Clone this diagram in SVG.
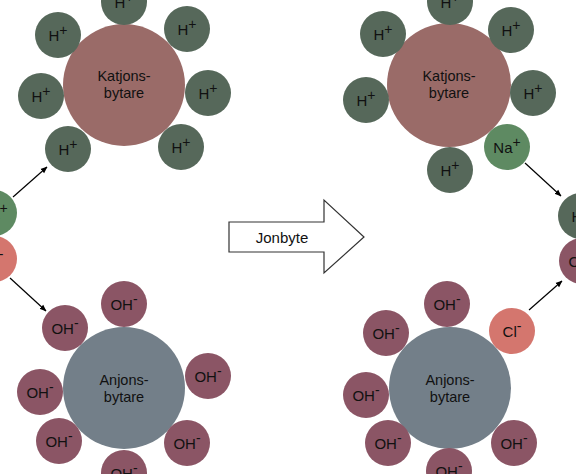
<svg xmlns="http://www.w3.org/2000/svg" width="576" height="474" viewBox="0 0 576 474">
<defs>
<style>
.h{fill:#56685a}
.na{fill:#5e8a62}
.cl{fill:#d4766e}
.oh{fill:#8b5565}
.kat{fill:#9a6b68}
.anj{fill:#737f89}
text{font-family:"Liberation Sans",Arial,sans-serif;font-size:15px;fill:#111;text-anchor:middle}
.big{font-size:14.5px}
.sup{font-size:14px}
.conn{stroke:#000;stroke-width:1.2;fill:none;marker-end:url(#ah)}
</style>
<marker id="ah" viewBox="0 0 10 10" refX="9" refY="5" markerWidth="7" markerHeight="7" orient="auto" markerUnits="userSpaceOnUse">
<path d="M0,1 L10,5 L0,9 Z" fill="#000"/>
</marker>
</defs>
<rect width="576" height="474" fill="#fff"/>

<g id="left-cation">
<circle class="kat" cx="124" cy="85" r="61"/>
<text class="big" x="124" y="81">Katjons-</text>
<text class="big" x="124" y="98">bytare</text>
</g>
<g id="lh1"><circle class="h" cx="124" cy="2" r="23"/><text x="124" y="8">H<tspan class="sup" dy="-6">+</tspan></text></g>
<g id="lh2"><circle class="h" cx="58" cy="35" r="23"/><text x="58" y="41">H<tspan class="sup" dy="-6">+</tspan></text></g>
<g id="lh3"><circle class="h" cx="187" cy="29" r="23"/><text x="187" y="35">H<tspan class="sup" dy="-6">+</tspan></text></g>
<g id="lh4"><circle class="h" cx="41" cy="96" r="23"/><text x="41" y="102">H<tspan class="sup" dy="-6">+</tspan></text></g>
<g id="lh5"><circle class="h" cx="208" cy="93" r="23"/><text x="208" y="99">H<tspan class="sup" dy="-6">+</tspan></text></g>
<g id="lh6"><circle class="h" cx="68" cy="149" r="23"/><text x="68" y="155">H<tspan class="sup" dy="-6">+</tspan></text></g>
<g id="lh7"><circle class="h" cx="181" cy="147" r="23"/><text x="181" y="153">H<tspan class="sup" dy="-6">+</tspan></text></g>

<g id="left-na"><circle class="na" cx="-6" cy="213" r="23"/><text x="-6" y="219">Na<tspan class="sup" dy="-6">+</tspan></text></g>
<g id="left-cl"><circle class="cl" cx="-6" cy="259" r="23"/><text x="-6" y="265">Cl<tspan class="sup" dy="-6">-</tspan></text></g>

<g id="left-anion">
<circle class="anj" cx="124" cy="388" r="61"/>
<text class="big" x="124" y="385">Anjons-</text>
<text class="big" x="124" y="402">bytare</text>
</g>
<g id="loh1"><circle class="oh" cx="124" cy="304" r="23"/><text x="124" y="310">OH<tspan class="sup" dy="-6">-</tspan></text></g>
<g id="loh2"><circle class="oh" cx="65" cy="328" r="23"/><text x="65" y="334">OH<tspan class="sup" dy="-6">-</tspan></text></g>
<g id="loh3"><circle class="oh" cx="208" cy="376" r="23"/><text x="208" y="382">OH<tspan class="sup" dy="-6">-</tspan></text></g>
<g id="loh4"><circle class="oh" cx="40" cy="392" r="23"/><text x="40" y="398">OH<tspan class="sup" dy="-6">-</tspan></text></g>
<g id="loh5"><circle class="oh" cx="59" cy="441" r="23"/><text x="59" y="447">OH<tspan class="sup" dy="-6">-</tspan></text></g>
<g id="loh6"><circle class="oh" cx="187" cy="443" r="23"/><text x="187" y="449">OH<tspan class="sup" dy="-6">-</tspan></text></g>
<g id="loh7"><circle class="oh" cx="124" cy="473" r="23"/><text x="124" y="479">OH<tspan class="sup" dy="-6">-</tspan></text></g>

<g id="jonbyte">
<path d="M229,222 L324,222 L324,200 L364,237 L324,273 L324,252 L229,252 Z" fill="#fff" stroke="#333" stroke-width="1.2"/>
<text x="282" y="243">Jonbyte</text>
</g>

<g id="right-cation">
<circle class="kat" cx="449" cy="85" r="62"/>
<text class="big" x="449" y="81">Katjons-</text>
<text class="big" x="449" y="98">bytare</text>
</g>
<g id="rh1"><circle class="h" cx="450" cy="2" r="23"/><text x="450" y="8">H<tspan class="sup" dy="-6">+</tspan></text></g>
<g id="rh2"><circle class="h" cx="383" cy="34" r="23"/><text x="383" y="40">H<tspan class="sup" dy="-6">+</tspan></text></g>
<g id="rh3"><circle class="h" cx="511" cy="30" r="23"/><text x="511" y="36">H<tspan class="sup" dy="-6">+</tspan></text></g>
<g id="rh4"><circle class="h" cx="366" cy="100" r="23"/><text x="366" y="106">H<tspan class="sup" dy="-6">+</tspan></text></g>
<g id="rh5"><circle class="h" cx="533" cy="93" r="23"/><text x="533" y="99">H<tspan class="sup" dy="-6">+</tspan></text></g>
<g id="rna"><circle class="na" cx="507" cy="147" r="23"/><text x="507" y="153">Na<tspan class="sup" dy="-6">+</tspan></text></g>
<g id="rh6"><circle class="h" cx="450" cy="170" r="23"/><text x="450" y="176">H<tspan class="sup" dy="-6">+</tspan></text></g>

<g id="right-h"><circle class="h" cx="581" cy="216" r="23"/><text x="581" y="222">H<tspan class="sup" dy="-6">+</tspan></text></g>
<g id="right-oh"><circle class="oh" cx="582" cy="261" r="23"/><text x="582" y="267">OH<tspan class="sup" dy="-6">-</tspan></text></g>

<g id="right-anion">
<circle class="anj" cx="450" cy="388" r="61"/>
<text class="big" x="450" y="385">Anjons-</text>
<text class="big" x="450" y="402">bytare</text>
</g>
<g id="roh1"><circle class="oh" cx="447" cy="304" r="23"/><text x="447" y="310">OH<tspan class="sup" dy="-6">-</tspan></text></g>
<g id="roh2"><circle class="oh" cx="386" cy="333" r="23"/><text x="386" y="339">OH<tspan class="sup" dy="-6">-</tspan></text></g>
<g id="rcl"><circle class="cl" cx="512" cy="331" r="23"/><text x="512" y="337">Cl<tspan class="sup" dy="-6">-</tspan></text></g>
<g id="roh3"><circle class="oh" cx="366" cy="395" r="23"/><text x="366" y="401">OH<tspan class="sup" dy="-6">-</tspan></text></g>
<g id="roh4"><circle class="oh" cx="388" cy="443" r="23"/><text x="388" y="449">OH<tspan class="sup" dy="-6">-</tspan></text></g>
<g id="roh5"><circle class="oh" cx="514" cy="443" r="23"/><text x="514" y="449">OH<tspan class="sup" dy="-6">-</tspan></text></g>
<g id="roh6"><circle class="oh" cx="449" cy="471" r="23"/><text x="449" y="477">OH<tspan class="sup" dy="-6">-</tspan></text></g>

<g id="connectors">
<line class="conn" x1="13" y1="197" x2="47" y2="167"/>
<line class="conn" x1="10" y1="278" x2="46" y2="311"/>
<line class="conn" x1="525" y1="163" x2="561" y2="196"/>
<line class="conn" x1="529" y1="310" x2="562" y2="281"/>
</g>
</svg>
